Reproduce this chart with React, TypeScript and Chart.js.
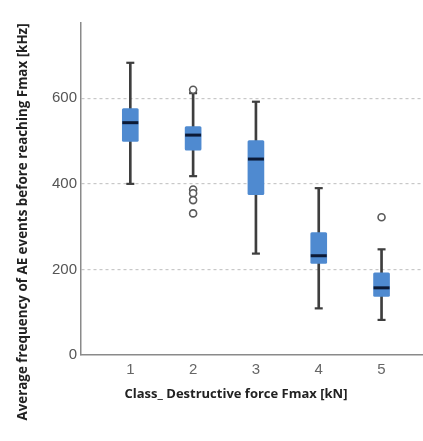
import React, { useEffect, useRef } from "react";
import { Chart, registerables } from "chart.js";

Chart.register(...registerables);

const categories = [1, 2, 3, 4, 5];
const mins = [400, 418, 237, 109, 82];
const q1s = [499, 479, 375, 214, 137];
const medians = [543, 514, 458, 232, 157];
const q3s = [576, 534, 501, 286, 192];
const maxs = [683, 612, 592, 390, 247];
const outlierClass = [2, 2, 2, 2, 2, 5];
const outlierValues = [620, 387, 378, 362, 331, 322];
const yTicks = [0, 200, 400, 600];

const xTitle = "Class_ Destructive force Fmax [kN]";
const yTitle = "Average frequency of AE events before reaching Fmax [kHz]";

const titlePlugin = {
  id: "axisTitles",
  afterDraw(chart: any) {
    const ctx = chart.ctx;
    ctx.save();
    ctx.fillStyle = "#222";
    ctx.font = "bold 13px 'Open Sans'";
    ctx.textAlign = "center";
    ctx.textBaseline = "middle";
    ctx.fillText(xTitle, 236, 394);
    ctx.translate(23, 222);
    ctx.rotate(-Math.PI / 2);
    ctx.font = "bold 13.4px 'Open Sans'";
    ctx.fillText(yTitle, 0, 0);
    ctx.restore();
  },
};

export default function App() {
  const ref = useRef<HTMLCanvasElement>(null);
  useEffect(() => {
    if (!ref.current) return;
    const boxColor = "#4f8ad0";
    const whiskerColor = "#3e3e3e";
    const chart = new Chart(ref.current, {
      type: "bar",
      data: {
        datasets: [
          {
            type: "bar",
            label: "whisker",
            data: categories.map((c, i) => ({ x: c, y: [mins[i], maxs[i]] })) as any,
            backgroundColor: whiskerColor,
            barThickness: 2,
            grouped: false,
            order: 5,
          } as any,
          {
            type: "bar",
            label: "box",
            data: categories.map((c, i) => ({ x: c, y: [q1s[i], q3s[i]] })) as any,
            backgroundColor: boxColor,
            barThickness: 16,
            borderRadius: 1.5,
            borderSkipped: false,
            grouped: false,
            order: 4,
          } as any,
          {
            type: "scatter",
            label: "median",
            data: categories.map((c, i) => ({ x: c, y: medians[i] })),
            pointStyle: "line",
            pointRadius: 8,
            borderWidth: 3,
            borderColor: "#0c1a36",
            order: 3,
          } as any,
          {
            type: "scatter",
            label: "caps",
            data: [
              ...categories.map((c, i) => ({ x: c, y: mins[i] })),
              ...categories.map((c, i) => ({ x: c, y: maxs[i] })),
            ],
            pointStyle: "line",
            pointRadius: 4,
            borderWidth: 2.2,
            borderColor: whiskerColor,
            order: 2,
          } as any,
          {
            type: "scatter",
            label: "outliers",
            data: outlierClass.map((c, i) => ({ x: c, y: outlierValues[i] })),
            pointStyle: "circle",
            pointRadius: 3.5,
            borderWidth: 1.6,
            borderColor: "#5a5a5a",
            backgroundColor: "#ffffff",
            order: 1,
          } as any,
        ],
      },
      options: {
        responsive: false,
        animation: false,
        layout: { autoPadding: false, padding: { top: 23, left: 0, right: 0, bottom: 0 } },
        plugins: { legend: { display: false }, tooltip: { enabled: false } },
        scales: {
          x: {
            type: "linear",
            offset: false,
            min: 0.215,
            max: 5.66,
            afterBuildTicks: (s: any) => {
              s.ticks = categories.map((v) => ({ value: v }));
            },
            afterFit: (s: any) => {
              s.height = 86;
              s.paddingLeft = 0;
              s.paddingRight = 0;
            },
            grid: { display: false, drawTicks: false, offset: false },
            border: { display: true, color: "#8a8a8a", width: 1.5 },
            ticks: {
              color: "#666",
              font: { family: "'Liberation Sans'", size: 15 },
              padding: 6,
              autoSkip: false,
              maxRotation: 0,
            },
          },
          y: {
            type: "linear",
            min: 0,
            max: 776,
            afterBuildTicks: (s: any) => {
              s.ticks = yTicks.map((v) => ({ value: v }));
            },
            afterFit: (s: any) => {
              s.width = 81;
              s.paddingTop = 0;
              s.paddingBottom = 0;
            },
            grid: {
              drawTicks: false,
              color: (ctx: any) => (ctx.tick && ctx.tick.value === 0 ? "rgba(0,0,0,0)" : "#c8c8c8"),
              lineWidth: 1.2,
            },
            border: { display: true, color: "#8a8a8a", width: 1.5, dash: [3, 3] },
            ticks: {
              color: "#555",
              font: { family: "'Liberation Sans'", size: 15 },
              padding: 4,
            },
          },
        },
      },
      plugins: [titlePlugin],
    } as any);
    return () => chart.destroy();
  }, []);
  return (
    <div style={{ position: "absolute", left: 0, top: 0, width: 423, height: 441, background: "#fff" }}>
      <canvas ref={ref} width={423} height={441} style={{ display: "block" }} />
    </div>
  );
}
